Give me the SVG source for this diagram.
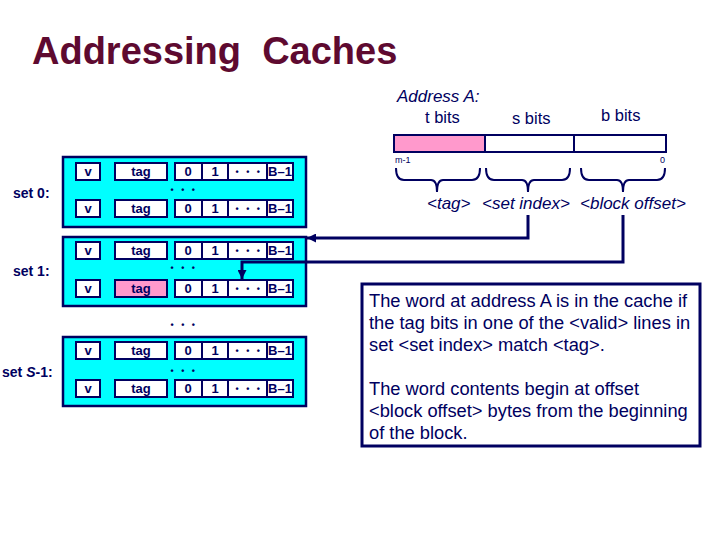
<svg xmlns="http://www.w3.org/2000/svg" width="720" height="540" viewBox="0 0 720 540">
<style>
text{font-family:"Liberation Sans",Arial,sans-serif;fill:#000060}
.set{fill:#00ffff;stroke:#000060;stroke-width:2.5}
.cell{fill:#ffffff;stroke:#000060;stroke-width:2}
.ct{font-size:13px;font-weight:bold;text-anchor:middle}
.lbl{font-size:14px;font-weight:bold}
.dots{font-size:9px;font-weight:bold;text-anchor:middle;letter-spacing:2.5px}
.brace{fill:none;stroke:#000060;stroke-width:2}
.conn{fill:none;stroke:#000060;stroke-width:3}
.it{font-style:italic;font-size:17px}
.ab{font-size:16.5px}
.bt{font-size:18.3px}
</style>
<defs>
<marker id="ah" viewBox="0 0 10 10" refX="10" refY="5" markerWidth="3" markerHeight="3" orient="auto" markerUnits="strokeWidth">
<path d="M0,0 L10,5 L0,10 z" fill="#000060"/>
</marker>
<g id="line">
<rect class="cell" x="76" y="0" width="24" height="17"/>
<rect class="cell" x="115" y="0" width="52" height="17"/>
<rect class="cell" x="175" y="0" width="27" height="17"/>
<rect class="cell" x="202" y="0" width="26" height="17"/>
<rect class="cell" x="228" y="0" width="39" height="17"/>
<rect class="cell" x="267" y="0" width="26" height="17"/>
<text class="ct" x="88" y="13">v</text>
<text class="ct" x="141" y="13">tag</text>
<text class="ct" x="188" y="13">0</text>
<text class="ct" x="215" y="13">1</text>
<text class="dots" x="249" y="12">• • •</text>
<text class="ct" x="280" y="13">B–1</text>
</g>
</defs>
<rect width="720" height="540" fill="#ffffff"/>
<text x="32" y="64" xml:space="preserve" style="font-size:38px;font-weight:bold;fill:#5e0a30;white-space:pre">Addressing  Caches</text>

<g id="set0">
<rect class="set" x="63" y="157" width="243" height="70"/>
<use href="#line" y="163"/>
<text class="dots" x="184" y="193">• • •</text>
<use href="#line" y="200"/>
<text class="lbl" x="13" y="198">set 0:</text>
</g>

<g id="set1">
<rect class="set" x="63" y="237" width="243" height="69"/>
<use href="#line" y="242"/>
<text class="dots" x="184" y="271">• • •</text>
<use href="#line" y="280"/>
<rect x="115" y="280" width="52" height="17" fill="#ff99cc" stroke="#000060" stroke-width="2"/>
<text class="ct" x="141" y="293">tag</text>
<text class="lbl" x="13" y="276">set 1:</text>
</g>

<text class="dots" x="184" y="328">• • •</text>

<g id="setS">
<rect class="set" x="63" y="337" width="243" height="69"/>
<use href="#line" y="342"/>
<text class="dots" x="184" y="374">• • •</text>
<use href="#line" y="380"/>
<text class="lbl" x="2" y="377">set <tspan font-style="italic">S</tspan>-1:</text>
</g>

<g id="address">
<text class="it" x="397" y="102">Address A:</text>
<text class="ab" x="425" y="123">t bits</text>
<text class="ab" x="512" y="124">s bits</text>
<text class="ab" x="601" y="121">b bits</text>
<rect x="394" y="135" width="91" height="17" fill="#ff99cc" stroke="#000060" stroke-width="2"/>
<rect x="485" y="135" width="89" height="17" fill="#ffffff" stroke="#000060" stroke-width="2"/>
<rect x="574" y="135" width="92" height="17" fill="#ffffff" stroke="#000060" stroke-width="2"/>
<text x="395" y="163" style="font-size:9px">m-1</text>
<text x="660" y="163" style="font-size:9px">0</text>
<path class="brace" d="M396,168 Q396,180 404,180 L431,180 Q437,180 437,192 Q437,180 443,180 L472,180 Q480,180 480,168"/>
<path class="brace" d="M486,168 Q486,180 494,180 L522,180 Q528,180 528,192 Q528,180 534,180 L562,180 Q570,180 570,168"/>
<path class="brace" d="M581,168 Q581,180 589,180 L617,180 Q623,180 623,192 Q623,180 629,180 L657,180 Q665,180 665,168"/>
<text class="it" x="427" y="209">&lt;tag&gt;</text>
<text class="it" x="482" y="209">&lt;set index&gt;</text>
<text class="it" x="580" y="209">&lt;block offset&gt;</text>
</g>

<g id="connectors">
<path class="conn" d="M528,215 V238 H307" marker-end="url(#ah)"/>
<path class="conn" d="M623,215 V262 H242 V279" marker-end="url(#ah)"/>
</g>

<g id="note">
<rect x="362" y="284" width="338" height="162" fill="#ffffff" stroke="#000060" stroke-width="3"/>
<text class="bt" x="369" y="307">The word at address A is in the cache if</text>
<text class="bt" x="369" y="329">the tag bits in one of the &lt;valid&gt; lines in</text>
<text class="bt" x="369" y="351">set &lt;set index&gt; match &lt;tag&gt;.</text>
<text class="bt" x="369" y="395">The word contents begin at offset</text>
<text class="bt" x="369" y="417">&lt;block offset&gt; bytes from the beginning</text>
<text class="bt" x="369" y="439">of the block.</text>
</g>
</svg>
